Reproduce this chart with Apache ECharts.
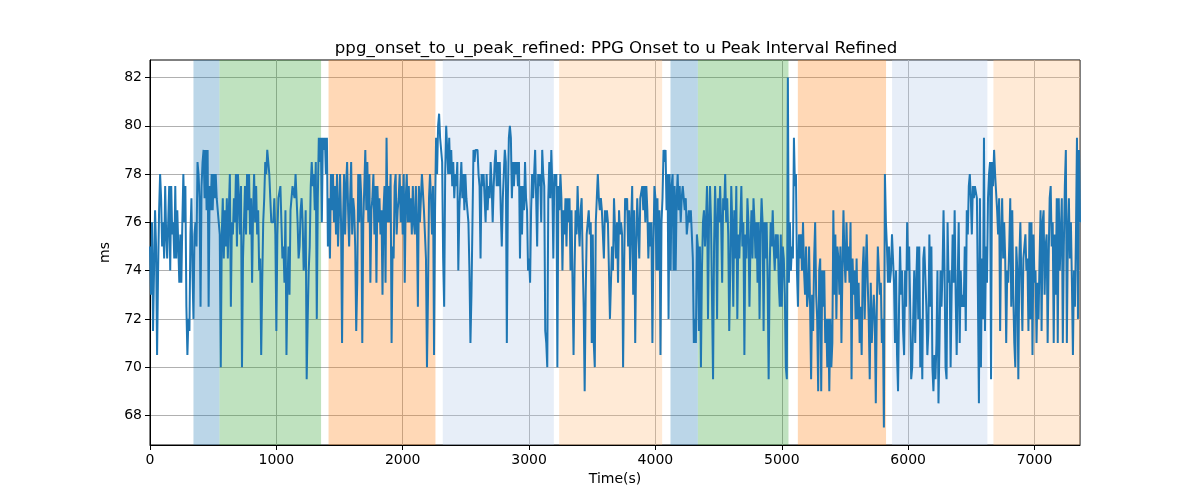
<!DOCTYPE html>
<html>
<head>
<meta charset="utf-8">
<title>ppg_onset_to_u_peak_refined</title>
<script src="https://cdn.jsdelivr.net/npm/echarts@6/dist/echarts.min.js"></script>
<style>
  html, body { margin: 0; padding: 0; background: #fff; }
  #chart { width: 1200px; height: 500px; }
</style>
</head>
<body>
<div id="chart"></div>
<script>
// sample times (s)
const times = [
  0,8,16,24,32,40,48,56,64,72,80,88,96,104,112,120,128,136,144,152,
  160,168,176,184,192,200,208,216,224,232,240,248,256,264,272,280,288,296,304,312,
  320,328,336,344,352,360,368,376,384,392,400,408,416,424,432,440,448,456,464,472,
  480,488,496,504,512,520,528,536,544,552,560,568,576,584,592,600,608,616,624,632,
  640,648,656,664,672,680,688,696,704,712,720,728,736,744,752,760,768,776,784,792,
  800,808,816,824,832,840,848,856,864,872,880,888,896,904,912,920,928,936,944,952,
  960,968,976,984,992,1000,1008,1016,1024,1032,1040,1048,1056,1064,1072,1080,1088,1096,1104,1112,
  1120,1128,1136,1144,1152,1160,1168,1176,1184,1192,1200,1208,1216,1224,1232,1240,1248,1256,1264,1272,
  1280,1288,1296,1304,1312,1320,1328,1336,1344,1352,1360,1368,1376,1384,1392,1400,1408,1416,1424,1432,
  1440,1448,1456,1464,1472,1480,1488,1496,1504,1512,1520,1528,1536,1544,1552,1560,1568,1576,1584,1592,
  1600,1608,1616,1624,1632,1640,1648,1656,1664,1672,1680,1688,1696,1704,1712,1720,1728,1736,1744,1752,
  1760,1768,1776,1784,1792,1800,1808,1816,1824,1832,1840,1848,1856,1864,1872,1880,1888,1896,1904,1912,
  1920,1928,1936,1944,1952,1960,1968,1976,1984,1992,2000,2008,2016,2024,2032,2040,2048,2056,2064,2072,
  2080,2088,2096,2104,2112,2120,2128,2136,2144,2152,2160,2168,2176,2184,2192,2200,2208,2216,2224,2232,
  2240,2248,2256,2264,2272,2280,2288,2296,2304,2312,2320,2328,2336,2344,2352,2360,2368,2376,2384,2392,
  2400,2408,2416,2424,2432,2440,2448,2456,2464,2472,2480,2488,2496,2504,2512,2520,2528,2536,2544,2552,
  2560,2568,2576,2584,2592,2600,2608,2616,2624,2632,2640,2648,2656,2664,2672,2680,2688,2696,2704,2712,
  2720,2728,2736,2744,2752,2760,2768,2776,2784,2792,2800,2808,2816,2824,2832,2840,2848,2856,2864,2872,
  2880,2888,2896,2904,2912,2920,2928,2936,2944,2952,2960,2968,2976,2984,2992,3000,3008,3016,3024,3032,
  3040,3048,3056,3064,3072,3080,3088,3096,3104,3112,3120,3128,3136,3144,3152,3160,3168,3176,3184,3192,
  3200,3208,3216,3224,3232,3240,3248,3256,3264,3272,3280,3288,3296,3304,3312,3320,3328,3336,3344,3352,
  3360,3368,3376,3384,3392,3400,3408,3416,3424,3432,3440,3448,3456,3464,3472,3480,3488,3496,3504,3512,
  3520,3528,3536,3544,3552,3560,3568,3576,3584,3592,3600,3608,3616,3624,3632,3640,3648,3656,3664,3672,
  3680,3688,3696,3704,3712,3720,3728,3736,3744,3752,3760,3768,3776,3784,3792,3800,3808,3816,3824,3832,
  3840,3848,3856,3864,3872,3880,3888,3896,3904,3912,3920,3928,3936,3944,3952,3960,3968,3976,3984,3992,
  4000,4008,4016,4024,4032,4040,4048,4056,4064,4072,4080,4088,4096,4104,4112,4120,4128,4136,4144,4152,
  4160,4168,4176,4184,4192,4200,4208,4216,4224,4232,4240,4248,4256,4264,4272,4280,4288,4296,4304,4312,
  4320,4328,4336,4344,4352,4360,4368,4376,4384,4392,4400,4408,4416,4424,4432,4440,4448,4456,4464,4472,
  4480,4488,4496,4504,4512,4520,4528,4536,4544,4552,4560,4568,4576,4584,4592,4600,4608,4616,4624,4632,
  4640,4648,4656,4664,4672,4680,4688,4696,4704,4712,4720,4728,4736,4744,4752,4760,4768,4776,4784,4792,
  4800,4808,4816,4824,4832,4840,4848,4856,4864,4872,4880,4888,4896,4904,4912,4920,4928,4936,4944,4952,
  4960,4968,4976,4984,4992,5000,5008,5016,5024,5032,5040,5048,5056,5064,5072,5080,5088,5096,5104,5112,
  5120,5128,5136,5144,5152,5160,5168,5176,5184,5192,5200,5208,5216,5224,5232,5240,5248,5256,5264,5272,
  5280,5288,5296,5304,5312,5320,5328,5336,5344,5352,5360,5368,5376,5384,5392,5400,5408,5416,5424,5432,
  5440,5448,5456,5464,5472,5480,5488,5496,5504,5512,5520,5528,5536,5544,5552,5560,5568,5576,5584,5592,
  5600,5608,5616,5624,5632,5640,5648,5656,5664,5672,5680,5688,5696,5704,5712,5720,5728,5736,5744,5752,
  5760,5768,5776,5784,5792,5800,5808,5816,5824,5832,5840,5848,5856,5864,5872,5880,5888,5896,5904,5912,
  5920,5928,5936,5944,5952,5960,5968,5976,5984,5992,6000,6008,6016,6024,6032,6040,6048,6056,6064,6072,
  6080,6088,6096,6104,6112,6120,6128,6136,6144,6152,6160,6168,6176,6184,6192,6200,6208,6216,6224,6232,
  6240,6248,6256,6264,6272,6280,6288,6296,6304,6312,6320,6328,6336,6344,6352,6360,6368,6376,6384,6392,
  6400,6408,6416,6424,6432,6440,6448,6456,6464,6472,6480,6488,6496,6504,6512,6520,6528,6536,6544,6552,
  6560,6568,6576,6584,6592,6600,6608,6616,6624,6632,6640,6648,6656,6664,6672,6680,6688,6696,6704,6712,
  6720,6728,6736,6744,6752,6760,6768,6776,6784,6792,6800,6808,6816,6824,6832,6840,6848,6856,6864,6872,
  6880,6888,6896,6904,6912,6920,6928,6936,6944,6952,6960,6968,6976,6984,6992,7000,7008,7016,7024,7032,
  7040,7048,7056,7064,7072,7080,7088,7096,7104,7112,7120,7128,7136,7144,7152,7160,7168,7176,7184,7192,
  7200,7208,7216,7224,7232,7240,7248,7256,7264,7272,7280,7288,7296,7304,7312,7320,7328,7336,7344,7352,
  7360
];

// onset to u peak interval (ms)
const values = [
  75.0,73.0,76.0,71.5,74.0,76.5,75.0,70.5,74.0,76.5,78.0,77.0,75.0,76.0,74.5,77.5,75.5,74.5,76.0,77.5,
  74.0,77.5,75.5,76.0,74.5,77.5,74.5,76.5,75.0,73.5,75.5,73.5,76.0,78.0,76.0,77.5,72.5,70.5,72.0,71.5,
  75.5,77.0,74.0,72.0,75.5,76.0,75.0,78.5,78.0,77.0,72.5,77.5,78.5,79.0,77.0,79.0,76.5,79.0,72.5,77.5,
  76.5,78.0,76.5,78.0,77.0,78.0,77.0,76.5,76.0,75.5,70.0,75.5,77.0,74.5,76.5,75.0,77.0,74.5,76.5,78.0,
  72.5,76.0,75.5,77.0,76.0,78.0,75.0,78.0,77.0,75.5,77.5,70.0,74.5,76.0,77.5,75.5,78.0,76.5,78.0,75.5,
  77.0,73.5,76.5,78.0,76.0,77.5,75.5,76.5,74.0,74.5,70.5,73.5,76.0,77.0,78.5,78.0,79.0,79.0,78.0,77.0,
  76.0,76.0,76.0,77.0,75.5,71.5,75.5,77.0,77.0,77.5,76.0,74.5,75.0,73.5,76.5,70.5,73.5,75.0,73.0,76.5,
  77.0,77.5,77.5,77.0,78.0,77.0,76.0,74.5,75.0,76.5,77.0,76.0,74.0,74.5,
  76.5,69.5,72.0,74.0,75.0,77.5,78.5,77.5,78.0,76.5,78.5,72.0,77.0,79.5,78.5,79.5,76.0,79.5,79.0,79.5,
  78.0,79.5,75.0,77.0,74.5,78.0,76.5,78.0,76.0,77.5,75.5,78.0,75.0,76.5,78.0,76.0,71.0,76.0,78.0,75.5,
  77.5,78.5,76.5,75.0,77.0,78.5,75.5,77.0,76.5,75.0,71.5,73.5,78.0,76.0,78.0,77.0,71.0,76.0,77.5,79.0,
  76.5,78.5,76.0,78.0,73.5,76.5,77.0,78.0,75.5,77.5,73.5,77.5,76.0,77.0,75.5,76.5,73.0,76.5,77.5,73.5,
  79.5,76.0,77.5,76.0,78.0,71.0,75.0,74.5,77.5,78.0,75.5,76.5,77.0,78.0,76.0,77.5,75.5,78.0,73.5,77.0,
  78.0,76.0,77.5,76.0,77.0,75.5,77.5,76.0,75.5,77.5,76.0,72.5,77.5,76.0,77.0,78.0,78.0,76.5,75.5,74.5,
  70.0,73.0,77.0,78.0,77.0,75.5,77.5,70.5,76.5,79.5,78.0,80.0,80.5,79.5,79.0,78.5,74.5,72.5,78.0,80.0,
  79.0,78.0,79.5,78.0,79.0,77.5,78.5,77.0,78.0,77.5,78.5,74.0,76.5,
  77.5,78.5,77.0,78.0,76.5,78.0,77.0,76.5,76.0,74.0,71.0,73.0,76.0,79.0,78.5,79.0,79.0,79.0,78.0,77.5,
  74.5,78.0,77.5,78.0,77.0,76.0,78.0,76.5,77.5,77.0,78.5,77.5,76.0,77.5,78.5,79.0,77.5,78.5,77.5,78.5,
  76.5,75.0,77.0,78.0,79.0,78.5,71.0,77.0,79.5,80.0,79.5,77.0,78.5,77.5,78.5,78.0,78.5,77.5,78.5,74.5,
  77.5,75.5,77.5,76.5,78.5,77.0,76.5,74.0,74.5,73.5,76.5,78.0,77.0,78.0,79.0,77.0,75.0,78.0,77.5,78.0,
  76.0,79.0,78.0,77.5,71.5,71.0,70.0,77.0,78.5,77.0,79.0,77.5,74.5,78.0,77.5,78.0,70.0,77.5,76.5,78.0,
  77.0,74.0,76.5,75.5,77.0,75.0,77.0,76.0,77.0,74.0,76.5,73.5,70.5,74.0,76.5,75.5,77.5,76.0,75.0,76.5,
  77.0,74.5,72.5,69.0,73.0,75.5,76.0,76.5,75.5,76.0,71.0,75.5,71.0,70.0,76.0,77.0,78.0,77.0,76.5,77.0,
  76.5,76.5,74.5,76.5,76.0,76.5,76.0,76.0,72.0,72.0,75.0,74.0,77.0,
  77.0,74.5,76.0,73.5,76.5,75.5,76.0,75.5,70.0,74.0,77.0,76.5,77.0,75.0,76.5,74.0,76.0,77.5,73.0,76.5,
  71.0,75.0,77.0,77.0,74.5,77.0,77.0,77.5,76.5,77.5,76.0,77.5,76.5,74.5,76.0,75.0,76.0,71.0,75.0,77.5,
  77.0,74.0,77.0,74.0,76.5,70.5,76.0,77.0,79.0,78.5,79.0,76.5,78.0,72.0,78.0,74.0,77.5,78.0,74.0,77.5,
  74.0,77.0,78.0,76.5,77.5,76.0,77.0,77.5,77.0,76.5,77.0,75.5,75.5,76.5,76.0,76.5,76.5,74.5,71.0,72.0,
  71.0,75.5,75.0,71.5,75.0,70.0,74.0,76.0,76.5,75.0,76.0,77.5,72.0,76.0,77.5,76.0,76.0,69.5,75.0,77.5,
  76.0,72.0,77.0,76.0,77.5,76.0,73.5,77.0,76.5,78.0,76.0,77.0,75.5,71.5,74.0,77.5,76.0,72.5,76.5,74.5,
  77.5,72.0,75.5,74.5,76.0,77.5,75.0,76.0,70.5,75.5,74.5,77.0,76.0,72.5,75.0,76.5,74.5,77.0,76.0,74.5,
  76.0,73.5,76.0,72.0,75.5,77.0,76.0,71.5,76.0,74.5,76.0,73.5,69.5,74.0,
  76.0,75.0,76.5,75.0,74.0,75.5,74.5,75.5,73.5,72.5,75.5,72.5,75.0,74.5,73.0,70.0,69.5,82.0,73.5,76.0,
  74.0,75.0,74.5,79.5,77.5,78.0,74.0,72.5,75.5,74.5,75.5,74.0,76.0,74.0,73.0,75.0,72.5,73.0,75.0,72.5,
  69.5,73.0,71.5,74.5,76.0,73.0,72.0,69.0,74.0,74.5,69.0,74.0,72.5,74.0,71.0,72.0,70.0,72.0,69.0,72.0,
  70.0,71.0,76.5,73.0,75.5,72.0,75.0,74.5,73.0,75.0,71.0,74.0,76.5,74.5,73.5,76.0,74.0,75.0,73.5,76.0,
  69.5,74.5,73.0,74.0,72.0,74.5,72.0,73.5,71.0,72.5,70.5,74.0,75.0,72.0,74.0,75.5,73.5,72.0,69.5,73.5,
  71.0,72.0,73.0,72.0,68.5,72.5,75.0,75.0,73.0,73.5,71.0,72.0,67.5,78.0,76.0,75.0,73.5,75.0,73.5,74.0,
  75.5,75.5,73.5,71.0,74.0,70.5,69.0,72.5,75.0,73.0,74.0,71.5,70.5,74.0,72.5,76.0,74.0,75.0,72.5,69.5,
  70.0,72.0,74.0,71.0,73.5,75.0,72.0,75.0,70.0,72.0,69.5,74.5,75.0,
  75.0,72.5,70.5,71.5,75.5,72.5,75.0,70.0,69.0,70.5,69.5,71.0,74.0,68.5,71.0,74.0,72.5,74.0,76.5,74.0,
  70.0,69.5,76.0,73.5,74.0,70.0,73.0,75.5,73.5,76.5,73.0,70.5,73.5,76.0,71.0,74.0,72.5,73.0,72.5,75.0,
  71.5,76.5,75.5,77.5,78.0,77.0,75.5,77.5,77.0,77.5,77.5,77.0,73.0,68.5,77.0,70.0,74.5,72.0,79.5,71.5,
  75.0,73.5,77.0,78.0,78.5,69.5,78.5,77.5,79.0,78.0,78.0,76.5,75.5,77.0,71.5,75.5,77.0,74.5,76.0,74.5,
  71.0,74.0,73.5,75.0,77.0,72.5,76.5,73.0,71.0,70.0,75.0,74.0,69.5,74.5,76.0,73.5,71.5,74.5,75.0,75.5,
  74.0,74.5,71.5,76.0,72.0,76.0,70.5,75.5,73.5,74.0,71.0,73.5,72.0,74.5,76.5,71.5,76.0,76.5,73.0,75.0,
  75.5,71.0,74.5,77.0,77.5,75.0,76.0,71.0,75.5,73.0,77.0,71.0,77.0,74.0,75.5,77.0,71.0,75.0,77.5,79.0,
  71.0,75.5,77.0,74.5,76.0,73.5,70.5,74.0,72.5,75.5,79.5,72.0,79.0,76.0
];

const xTicks = [0, 1000, 2000, 3000, 4000, 5000, 6000, 7000];
const yTicks = [68, 70, 72, 74, 76, 78, 80, 82];

// shaded segments (s)
const bandStart = [344, 550, 1413, 2317, 3238, 4119, 4336, 5127, 5873, 6675];
const bandEnd   = [550, 1354, 2259, 3196, 4053, 4336, 5053, 5825, 6627, 7360];

const bandColors = [
  'rgba(31,119,180,0.3)',
  'rgba(44,160,44,0.3)',
  'rgba(255,127,14,0.3)',
  'rgba(174,199,232,0.3)',
  'rgba(255,187,120,0.3)'
];

const chart = echarts.init(document.getElementById('chart'));

const lineData = times.map((t, i) => [t, values[i]]);
const areas = bandStart.map((s, i) => [
  { xAxis: s, itemStyle: { color: bandColors[i % 5] } },
  { xAxis: bandEnd[i] }
]);

const font = 'DejaVu Sans';

chart.setOption({
  animation: false,
  title: {
    text: 'ppg_onset_to_u_peak_refined: PPG Onset to u Peak Interval Refined',
    left: 611,
    top: 35,
    textAlign: 'center',
    textStyle: { fontFamily: font, fontSize: 16.6, fontWeight: 'normal', color: '#000' }
  },
  grid: {
    left: 150, right: 120, top: 60, bottom: 55,
    show: true, borderColor: '#000', borderWidth: 1, backgroundColor: 'transparent'
  },
  xAxis: {
    type: 'value',
    min: 0, max: 7360,
    name: 'Time(s)',
    nameLocation: 'middle',
    nameGap: 27,
    nameTextStyle: { fontFamily: font, fontSize: 14, color: '#000' },
    axisLine: { show: true, onZero: false, lineStyle: { color: '#000' } },
    axisTick: { show: true, inside: false, length: 5, customValues: xTicks, lineStyle: { color: '#000' } },
    axisLabel: {
      fontFamily: font, fontSize: 14, color: '#000', margin: 8,
      customValues: xTicks,
      formatter: v => String(v)
    },
    splitLine: { show: true, lineStyle: { color: '#b0b0b0', width: 1 } }
  },
  yAxis: {
    type: 'value',
    min: 66.775, max: 82.725,
    name: 'ms',
    nameLocation: 'middle',
    nameGap: 38,
    nameTextStyle: { fontFamily: font, fontSize: 14, color: '#000' },
    axisLine: { show: true, lineStyle: { color: '#000' } },
    axisTick: { show: true, inside: false, length: 5, customValues: yTicks, lineStyle: { color: '#000' } },
    axisLabel: { fontFamily: font, fontSize: 14, color: '#000', margin: 8, customValues: yTicks },
    splitLine: { show: true, lineStyle: { color: '#b0b0b0', width: 1 } }
  },
  series: [{
    type: 'line',
    data: lineData,
    showSymbol: false,
    symbol: 'none',
    lineStyle: { color: '#1f77b4', width: 2 },
    markArea: { silent: true, data: areas }
  }]
});
</script>
</body>
</html>
